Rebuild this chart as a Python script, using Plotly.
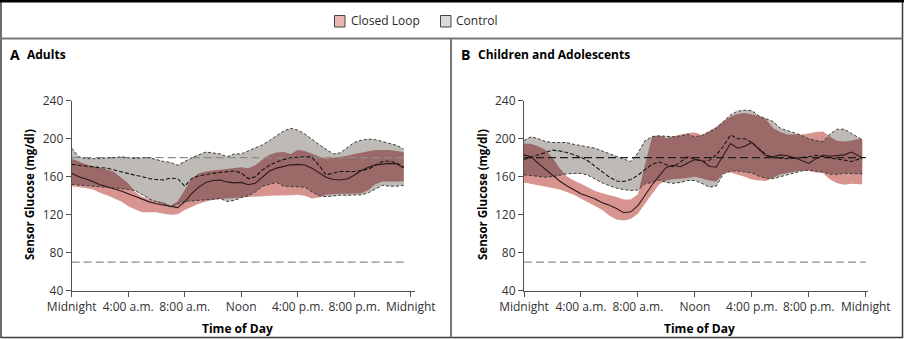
import numpy as np
import plotly.graph_objects as go

# ---------------------------------------------------------------------------
# Median sensor glucose (mg/dl) with interquartile range, by time of day.
# cl/cu = closed-loop lower/upper quartile, cm = closed-loop median
# gl/gu = control lower/upper quartile,     gm = control median
# ---------------------------------------------------------------------------
hours_a = [i * 0.5 for i in range(48)]
hours_b = [i * 0.5 for i in range(48)] + [23.75]

gu_a = [190, 181, 179, 179, 179, 180, 180, 181, 180, 179, 180, 180, 178, 176, 175, 172,
        176, 180, 183, 186, 185, 184, 181, 184, 184, 187, 190, 193.5, 198, 203, 208, 211,
        209, 205, 199, 194, 189, 184, 185, 191, 196, 198.5, 199.5, 199, 197, 195, 193, 189]
gl_a = [152, 151, 150.5, 150, 149.5, 149, 148, 147.5, 146.5, 145.5, 141, 136.5, 133.5, 131.5, 128.5, 131,
        134, 134.5, 135, 135.5, 136.5, 137, 134, 135, 138, 140, 144, 150, 152, 154, 150, 149.5,
        149.5, 149, 144, 140, 139, 140, 140.5, 140.5, 140.5, 141, 143, 147, 151, 150, 150, 151]
cu_a = [179, 176, 173, 171, 169.5, 167.5, 165, 159, 153, 144, 138.5, 136, 134.5, 133, 129.5, 134,
        146, 158, 163.5, 165.5, 166.5, 167.5, 168.5, 169, 170, 169, 172, 178, 183, 185.5, 186, 184,
        188, 187, 184, 181, 179, 180, 181, 182, 184, 185.5, 187, 188, 188, 188, 187, 186]
cl_a = [150, 149, 148, 146.5, 143, 140.5, 137.5, 134, 129, 125.5, 122.5, 122.5, 122.5, 121, 120, 120.5,
        125, 128.5, 131.5, 134, 135.5, 137, 137, 137.5, 138, 138, 139, 139.5, 140, 140, 140.5, 140.5,
        141, 140, 137, 138, 141, 141.5, 142, 142, 142, 142.5, 146, 152, 155, 155.5, 155, 155]
cm_a = [163.5, 160, 157.5, 155, 151.5, 149.5, 147.5, 145, 142, 139, 136.5, 133.5, 131.5, 130, 128.5, 127.5,
        133.5, 142.5, 149, 154, 156, 156.5, 154.5, 153.5, 154, 151.5, 153, 160, 166, 169, 171, 172.5,
        173, 172.3, 169, 164, 159.5, 157, 156.5, 157.5, 161.5, 166.5, 170, 172.5, 173.5, 174, 173.5, 169]
gm_a = [173, 172, 171, 170, 169.5, 169, 167, 165.5, 163.5, 161.5, 160, 158, 157, 156.5, 158.5, 158,
        150, 158, 161, 162.5, 163.5, 164.5, 165.5, 166, 164, 158, 160, 167, 172, 175.5, 178, 180,
        180.5, 181, 180.5, 172, 162, 164, 165.5, 165.5, 165.5, 166.5, 168, 172, 176, 176.5, 174.5, 170]

gu_b = [198, 202, 200, 197, 196, 196, 196, 194, 192.5, 191.5, 190, 187, 184, 181, 178.5, 176,
        185, 198, 202, 203, 202.5, 202, 203, 204.5, 202, 203.5, 207, 211, 218, 225, 229, 230,
        229.5, 224, 221, 218, 211, 208.5, 206, 203.5, 200, 198, 197, 205, 210, 210, 205.5, 201, 199]
gl_b = [162, 161, 160, 159.5, 160, 161.5, 163, 163.5, 163.5, 161.5, 157.5, 153.5, 150.5, 148, 146.5, 145.5,
        146, 152.5, 154, 156.5, 154, 153, 154, 156, 156, 153, 149, 150, 163, 166, 166, 165,
        164, 160.5, 158.5, 158, 160, 162.5, 164.5, 166, 167, 166, 165, 162.5, 162.5, 163.5, 163.5, 163, 163]
cu_b = [195, 194.5, 192, 188.5, 180, 169, 160.5, 156, 152.5, 148.5, 145, 142.5, 140.7, 138.5, 136, 136,
        141.5, 173, 203, 203.5, 200.5, 202.5, 204, 206, 206.5, 204, 208, 212.5, 218, 223, 226, 227,
        225.5, 224, 220.5, 211, 207, 204.5, 204.5, 204.5, 205.5, 207, 207.5, 202, 197.5, 197, 198, 200, 200]
cl_b = [154, 153, 151.5, 149.5, 148, 146.5, 144, 141, 137.5, 133, 129, 125, 119, 115, 114, 115.5,
        121, 132, 142, 152, 156, 157.5, 158, 158.5, 160, 158, 156, 155, 163.5, 164.5, 162.5, 160,
        157, 156, 155.5, 159, 162.5, 163.5, 165, 166.5, 166, 164.5, 163.5, 157, 153, 151.5, 152.5, 152, 152]
cm_b = [183, 181, 174, 167.5, 161, 155.5, 150.5, 146, 142, 139.5, 136.5, 132.5, 130, 126.5, 122, 123,
        129.5, 140.5, 151.5, 161, 170, 172, 170.5, 174.5, 178, 177, 171, 170, 183, 195, 190, 192,
        196, 189, 182, 181, 183, 182, 180, 177, 174, 179, 182.5, 181.5, 182, 183, 186, 182, 180]
gm_b = [178, 180.5, 183.5, 186, 188, 187, 185.5, 183, 180.5, 176.5, 171, 165, 159.5, 155.5, 155, 157,
        161.5, 167.5, 173, 175.5, 172.5, 170.5, 175.5, 181, 178.5, 176, 177, 183, 192, 204, 200, 200,
        196, 189, 183, 180, 179.5, 179, 179.5, 180, 181, 182.5, 181, 179.5, 178.5, 177.5, 176, 178.5, 179]

hyper_threshold = 180
hypo_threshold = 70

tick_hours = [0, 4, 8, 12, 16, 20, 24]
tick_text = ["Midnight", "4:00 a.m.", "8:00 a.m.", "Noon", "4:00 p.m.", "8:00 p.m.", "Midnight"]
y_ticks = [40, 80, 120, 160, 200, 240]

PINK = "rgb(216,148,143)"
GRAY = "rgb(190,186,182)"
MAUVE = "rgb(155,106,104)"
FONT = "Open Sans"

W, H = 904, 339


def px(x):
    return x / W


def py(y):
    return 1 - y / H


def refine(x, series):
    """Add every crossing point of any two series so that pointwise min/max
    stay exact along the straight segments drawn between samples."""
    x = np.asarray(x, float)
    arrs = [np.asarray(s, float) for s in series]
    xs = list(x)
    for i in range(len(arrs)):
        for j in range(i + 1, len(arrs)):
            d = arrs[i] - arrs[j]
            for k in range(len(x) - 1):
                if d[k] * d[k + 1] < 0:
                    t = d[k] / (d[k] - d[k + 1])
                    xs.append(x[k] + t * (x[k + 1] - x[k]))
    xs = np.unique(xs)
    return xs, [np.interp(xs, x, a) for a in arrs]


def band(x, lo, hi, color, xa, ya):
    x = np.asarray(x, float)
    return go.Scatter(
        x=np.concatenate([x, x[::-1]]),
        y=np.concatenate([np.asarray(hi, float), np.asarray(lo, float)[::-1]]),
        fill="toself", fillcolor=color, mode="lines", line=dict(width=0),
        hoverinfo="skip", showlegend=False, xaxis=xa, yaxis=ya)


def line(x, y, color, dash, width, xa, ya):
    return go.Scatter(x=x, y=y, mode="lines", hoverinfo="skip", showlegend=False,
                      line=dict(color=color, dash=dash, width=width),
                      xaxis=xa, yaxis=ya)


fig = go.Figure()

panels = [
    (hours_a, cl_a, cu_a, cm_a, gl_a, gu_a, gm_a, "x", "y", "rgb(140,140,140)", hours_a[-1]),
    (hours_b, cl_b, cu_b, cm_b, gl_b, gu_b, gm_b, "x2", "y2", "rgb(30,30,30)", 24),
]

for hrs, cl, cu, cm, gl, gu, gm, xa, ya, hyper_col, ref_end in panels:
    # closed-loop and control interquartile bands
    fig.add_trace(band(hrs, cl, cu, PINK, xa, ya))
    fig.add_trace(band(hrs, gl, gu, GRAY, xa, ya))
    # region where the two bands overlap
    xs, (rcl, rcu, rgl, rgu) = refine(hrs, [cl, cu, gl, gu])
    lo = np.maximum(rcl, rgl)
    hi = np.maximum(np.minimum(rcu, rgu), lo)
    fig.add_trace(band(xs, lo, hi, MAUVE, xa, ya))
    # glucose target range limits
    fig.add_trace(line([0, ref_end], [hyper_threshold] * 2, hyper_col, "8px,4px", 1.3, xa, ya))
    fig.add_trace(line([0, ref_end], [hypo_threshold] * 2, "rgb(140,140,140)", "8px,4px", 1.3, xa, ya))
    # control quartile edges and medians
    fig.add_trace(line(hrs, gu, "rgb(60,60,60)", "3px,2px", 1.0, xa, ya))
    fig.add_trace(line(hrs, gl, "rgb(60,60,60)", "3px,2px", 1.0, xa, ya))
    fig.add_trace(line(hrs, gm, "rgb(20,20,20)", "4px,2px", 1.1, xa, ya))
    fig.add_trace(line(hrs, cm, "rgb(45,25,25)", "solid", 1.1, xa, ya))

axis_common = dict(showgrid=False, zeroline=False, showline=True, linecolor="rgb(80,80,80)",
                   linewidth=1, ticks="outside", ticklen=5, tickcolor="rgb(80,80,80)",
                   tickfont=dict(family=FONT, size=12, color="rgb(50,50,50)"), fixedrange=True)

fig.update_layout(
    width=W, height=H, autosize=False,
    margin=dict(l=0, r=0, t=0, b=0, autoexpand=False),
    paper_bgcolor="white", plot_bgcolor="white",
    showlegend=False,
    xaxis=dict(domain=[px(71.7), px(415)], range=[0, 24.3], tickvals=tick_hours,
               ticktext=tick_text, tickangle=0, anchor="y", **axis_common),
    yaxis=dict(domain=[py(290.7), py(100.7)], range=[40, 240], tickvals=y_ticks,
               anchor="x", **axis_common),
    xaxis2=dict(domain=[px(524), px(868.3)], range=[0, 24.18], tickvals=tick_hours,
                ticktext=tick_text, tickangle=0, anchor="y2", **axis_common),
    yaxis2=dict(domain=[py(290.7), py(100.7)], range=[40, 240], tickvals=y_ticks,
                anchor="x2", **axis_common),
)

ann = []


def text(x, y, s, size=12, bold=False, anchor="center", angle=0, color="black"):
    ann.append(dict(x=px(x), y=py(y), xref="paper", yref="paper", text=s, showarrow=False,
                    xanchor=anchor, yanchor="middle", textangle=angle,
                    font=dict(family=FONT, size=size, color=color,
                              weight="bold" if bold else "normal")))


# axis titles
text(29, 195, "Sensor Glucose (mg/dl)", size=11.5, bold=True, angle=-90)
text(482, 195, "Sensor Glucose (mg/dl)", size=11.5, bold=True, angle=-90)
text(237, 328, "Time of Day", size=12, bold=True)
text(699, 328, "Time of Day", size=12, bold=True)
# panel titles
text(8, 55, "A", size=14, bold=True, anchor="left")
text(25, 55, "Adults", size=12, bold=True, anchor="left")
text(459, 55, "B", size=14, bold=True, anchor="left")
text(476, 55, "Children and Adolescents", size=12, bold=True, anchor="left")
# legend labels
text(349, 21, "Closed Loop", size=12, anchor="left", color="rgb(40,40,40)")
text(454, 21, "Control", size=12, anchor="left", color="rgb(40,40,40)")

shapes = [
    # legend swatches
    dict(type="rect", xref="paper", yref="paper", x0=px(334.5), x1=px(345), y0=py(27), y1=py(15.5),
         fillcolor="rgb(233,183,176)", line=dict(color="rgb(70,70,70)", width=1)),
    dict(type="rect", xref="paper", yref="paper", x0=px(440.5), x1=px(451), y0=py(27), y1=py(15.5),
         fillcolor="rgb(218,218,216)", line=dict(color="rgb(70,70,70)", width=1)),
    # outer frame and panel dividers
    dict(type="rect", xref="paper", yref="paper", x0=px(1), x1=px(902.5), y0=py(337.5), y1=py(1),
         line=dict(color="rgb(60,60,60)", width=1.5)),
    dict(type="line", xref="paper", yref="paper", x0=0, x1=1, y0=py(1), y1=py(1),
         line=dict(color="black", width=3)),
    dict(type="line", xref="paper", yref="paper", x0=px(1), x1=px(902.5), y0=py(38.5), y1=py(38.5),
         line=dict(color="rgb(120,120,120)", width=2)),
    dict(type="line", xref="paper", yref="paper", x0=px(451), x1=px(451), y0=py(38.5), y1=py(337.5),
         line=dict(color="rgb(120,120,120)", width=2)),
]

fig.update_layout(annotations=ann, shapes=shapes)

fig.write_html("out.html")
